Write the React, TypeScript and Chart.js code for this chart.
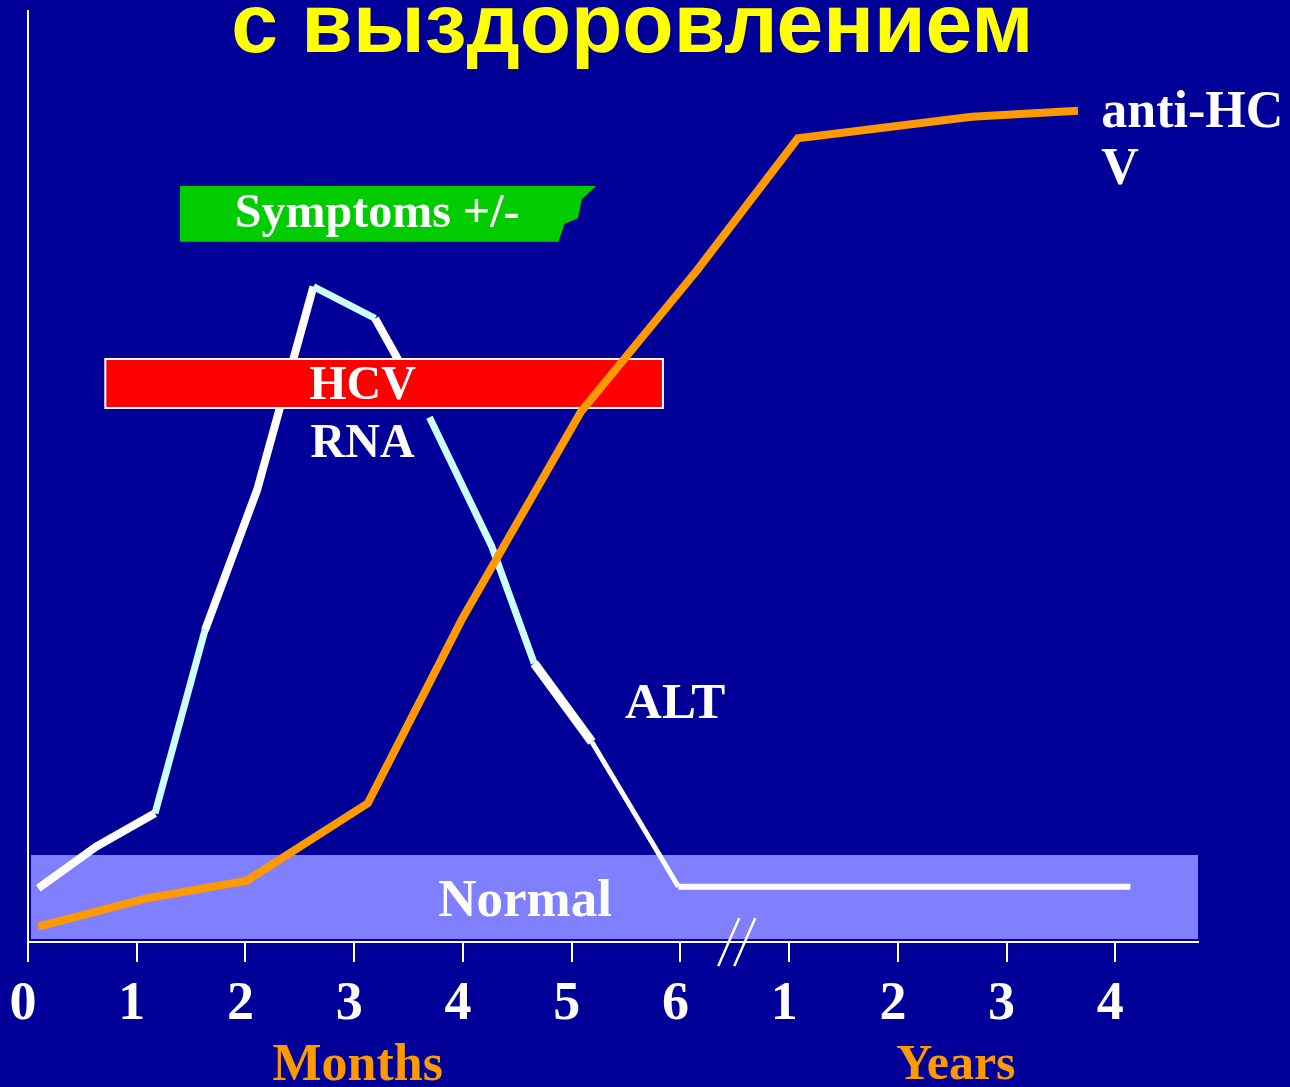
import React, { useEffect, useRef } from 'react';
import { Chart, registerables } from 'chart.js';

Chart.register(...registerables);

// ---------- data ----------
const titleText = 'с выздоровлением';

const tickPositions = [0, 1, 2, 3, 4, 5, 6, 7, 8, 9, 10];
const tickLabels = ['0', '1', '2', '3', '4', '5', '6', '1', '2', '3', '4'];
const axisBreakAt = 6.5;

// ALT curve
const altX = [0.095, 0.626, 1.168, 1.628, 2.107, 2.625, 3.192, 3.431, 3.692, 4.266, 4.655, 5.186, 5.982, 10.138];
const altY = [5.77, 10.24, 13.82, 33.51, 48.55, 70.39, 66.99, 61.98, 56.36, 42.46, 29.94, 21.48, 5.94, 5.94];

// anti-HCV curve
const antiX = [0.095, 1.092, 2.012, 3.125, 3.99, 5.085, 6.155, 7.08, 8.68, 9.656];
const antiY = [1.64, 4.69, 6.58, 14.9, 34.66, 56.96, 72.18, 86.33, 88.65, 89.29];

// "Normal" range band
const normalBandX = [0.028, 10.76];
const normalBandY = [0.32, 9.345];

// HCV RNA period box
const hcvBoxX = [0.711, 5.839];
const hcvBoxY = [57.36, 62.62];

// Symptoms box outline
const symptomsX = [1.398, 5.225, 5.094, 5.057, 4.934, 4.879, 1.398];
const symptomsY = [81.2, 81.2, 79.77, 77.73, 77.12, 75.22, 75.22];

// ---------- styles ----------
const BG = '#000099';
const WHITE = '#FFFFFF';
const CYAN = '#CCFFFF';
const ORANGE = '#FF9900';
const altSegmentColors = [WHITE, WHITE, CYAN, WHITE, WHITE, CYAN, WHITE, 'rgba(0,0,0,0)', CYAN, CYAN, WHITE, WHITE, WHITE];
const altSegmentWidths = [8, 8, 7, 8, 8, 7, 8, 7, 7, 7, 9, 5, 6];

const serif = (size: number) => `bold ${size}px "Liberation Serif", "Times New Roman", serif`;

export default function App() {
  const ref = useRef<HTMLCanvasElement>(null);

  useEffect(() => {
    document.body.style.margin = '0';
    document.body.style.background = BG;
    const canvas = ref.current!;

    const P = (chart: any, x: number, y: number) => [
      chart.scales.x.getPixelForValue(x),
      chart.scales.y.getPixelForValue(y),
    ];

    const text = (chart: any, s: string, x: number, y: number, font: string, color: string, align: CanvasTextAlign) => {
      const ctx = chart.ctx;
      const [px, py] = P(chart, x, y);
      ctx.save();
      ctx.font = font;
      ctx.fillStyle = color;
      ctx.textAlign = align;
      ctx.textBaseline = 'alphabetic';
      ctx.fillText(s, px, py);
      ctx.restore();
    };

    const plugin = {
      id: 'slide',
      beforeDraw(chart: any) {
        const ctx = chart.ctx;
        ctx.save();
        ctx.fillStyle = BG;
        ctx.fillRect(0, 0, chart.width, chart.height);
        ctx.restore();
      },
      beforeDatasetsDraw(chart: any) {
        const ctx = chart.ctx;
        const [x0, y0] = P(chart, normalBandX[0], normalBandY[1]);
        const [x1, y1] = P(chart, normalBandX[1], normalBandY[0]);
        ctx.save();
        ctx.fillStyle = '#8080FF';
        ctx.fillRect(x0, y0, x1 - x0, y1 - y0);
        ctx.restore();
        text(chart, 'Normal', 4.572, 2.79, serif(53), WHITE, 'center');
      },
      afterDatasetDraw(chart: any, args: any) {
        if (args.index !== 1) return;
        const ctx = chart.ctx;
        const [x0, y0] = P(chart, hcvBoxX[0], hcvBoxY[1]);
        const [x1, y1] = P(chart, hcvBoxX[1], hcvBoxY[0]);
        ctx.save();
        ctx.fillStyle = '#FF0000';
        ctx.fillRect(x0, y0, x1 - x0, y1 - y0);
        ctx.strokeStyle = WHITE;
        ctx.lineWidth = 2;
        ctx.strokeRect(x0, y0, x1 - x0, y1 - y0);
        ctx.restore();
        text(chart, 'HCV', 3.077, 58.29, serif(48), WHITE, 'center');
        text(chart, 'RNA', 3.077, 52.13, serif(48), WHITE, 'center');
      },
      afterDraw(chart: any) {
        const ctx = chart.ctx;
        // symptoms box
        ctx.save();
        ctx.fillStyle = '#00CC00';
        ctx.beginPath();
        symptomsX.forEach((sx, i) => {
          const [px, py] = P(chart, sx, symptomsY[i]);
          if (i === 0) ctx.moveTo(px, py); else ctx.lineTo(px, py);
        });
        ctx.closePath();
        ctx.fill();
        ctx.restore();
        text(chart, 'Symptoms +/-', 3.211, 76.8, serif(48), WHITE, 'center');

        text(chart, 'ALT', 5.952, 24.03, serif(51), WHITE, 'center');
        text(chart, 'anti-HC', 9.871, 87.54, serif(52), WHITE, 'left');
        text(chart, 'V', 9.871, 81.42, serif(52), WHITE, 'left');
        text(chart, 'Months', 3.032, -14.82, serif(52), ORANGE, 'center');
        text(chart, 'Years', 8.533, -14.72, serif(50), ORANGE, 'center');
        text(chart, titleText, 5.557, 95.6, 'bold 84px "Liberation Sans", Arial, sans-serif', '#FFFF00', 'center');

        // axis break marks
        const [bx, by] = P(chart, axisBreakAt, 0);
        ctx.save();
        ctx.strokeStyle = WHITE;
        ctx.lineWidth = 2.5;
        [-6, 10].forEach((d) => {
          ctx.beginPath();
          ctx.moveTo(bx + d - 10.5, by + 24);
          ctx.lineTo(bx + d + 10.5, by - 24);
          ctx.stroke();
        });
        ctx.restore();
      },
    };

    const chart = new Chart(canvas, {
      type: 'line',
      data: {
        datasets: [
          {
            label: 'anti-HCV',
            data: antiX.map((x, i) => ({ x, y: antiY[i] })),
            borderColor: ORANGE,
            borderWidth: 8,
            pointRadius: 0,
            tension: 0,
            borderCapStyle: 'butt',
            borderJoinStyle: 'miter',
            fill: false,
          },
          {
            label: 'ALT',
            data: altX.map((x, i) => ({ x, y: altY[i] })),
            borderColor: WHITE,
            borderWidth: 8,
            pointRadius: 0,
            tension: 0,
            borderCapStyle: 'butt',
            borderJoinStyle: 'miter',
            fill: false,
            segment: {
              borderColor: (c: any) => altSegmentColors[c.p0DataIndex],
              borderWidth: (c: any) => altSegmentWidths[c.p0DataIndex],
            },
          },
        ],
      },
      options: {
        responsive: false,
        devicePixelRatio: 1,
        animation: false,
        events: [],
        layout: { padding: { left: 28, top: 11, right: 92, bottom: 0 } },
        plugins: { legend: { display: false }, tooltip: { enabled: false }, title: { display: false } },
        scales: {
          x: {
            type: 'linear',
            min: 0,
            max: 10.76,
            afterFit: (s: any) => { s.height = 145; },
            afterBuildTicks: (s: any) => { s.ticks = tickPositions.map((v) => ({ value: v })); },
            ticks: {
              autoSkip: false,
              maxRotation: 0,
              color: WHITE,
              padding: 11,
              labelOffset: -5,
              font: { family: '"Liberation Serif", "Times New Roman", serif', weight: 'bold', size: 54 },
              callback: (_v: any, i: number) => tickLabels[i],
            },
            grid: { drawOnChartArea: false, drawTicks: true, tickLength: 20, color: WHITE, lineWidth: 2 },
            border: { display: true, color: WHITE, width: 2 },
          },
          y: {
            type: 'linear',
            min: 0,
            max: 100,
            afterFit: (s: any) => { s.width = 0; },
            ticks: { display: false },
            grid: { display: false, drawTicks: false },
            border: { display: true, color: WHITE, width: 2 },
          },
        },
      },
      plugins: [plugin],
    } as any);

    return () => chart.destroy();
  }, []);

  return (
    <div style={{ width: 1290, height: 1087 }}>
      <canvas ref={ref} width={1290} height={1087} style={{ display: 'block' }} />
    </div>
  );
}
